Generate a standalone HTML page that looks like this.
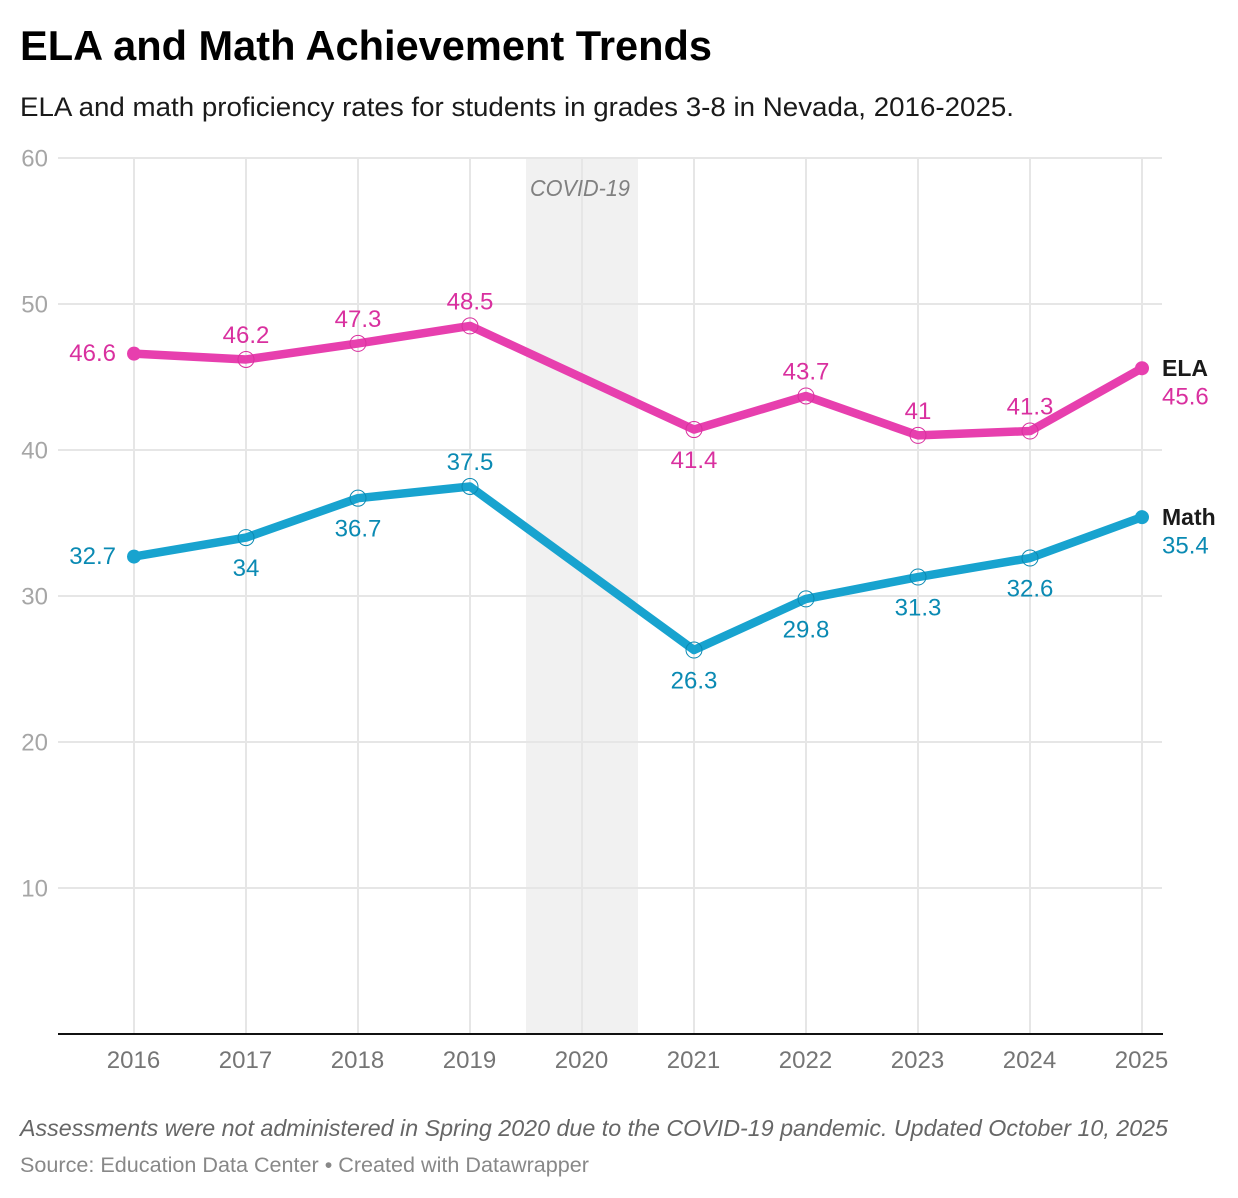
<!DOCTYPE html>
<html lang="en">
<head>
<meta charset="utf-8">
<title>ELA and Math Achievement Trends</title>
<style>
html,body{margin:0;padding:0;background:#fff;width:1238px;height:1198px;overflow:hidden}
svg{display:block}
text{font-family:"Liberation Sans",sans-serif}
</style>
</head>
<body>
<svg id="chart" xmlns="http://www.w3.org/2000/svg" width="1238" height="1198" viewBox="0 0 1238 1198">
  <text x="20" y="60" font-size="42" font-weight="700" fill="#000" textLength="692" lengthAdjust="spacingAndGlyphs">ELA and Math Achievement Trends</text>
  <text x="20" y="116" font-size="26.5" fill="#1a1a1a" textLength="994" lengthAdjust="spacingAndGlyphs">ELA and math proficiency rates for students in grades 3-8 in Nevada, 2016-2025.</text>
  <g id="plot"></g>
  <text x="20" y="1136" font-size="23.5" font-style="italic" fill="#666" textLength="1148" lengthAdjust="spacingAndGlyphs">Assessments were not administered in Spring 2020 due to the COVID-19 pandemic. Updated October 10, 2025</text>
  <text x="20" y="1172" font-size="21.5" fill="#888" textLength="569" lengthAdjust="spacingAndGlyphs">Source: Education Data Center • Created with Datawrapper</text>
</svg>
<script>
const years = [2016, 2017, 2018, 2019, 2020, 2021, 2022, 2023, 2024, 2025];
const yTicks = [10, 20, 30, 40, 50, 60];
const elaValues = [46.6, 46.2, 47.3, 48.5, null, 41.4, 43.7, 41, 41.3, 45.6];
const mathValues = [32.7, 34, 36.7, 37.5, null, 26.3, 29.8, 31.3, 32.6, 35.4];
const elaLabelSides = ['left', 'above', 'above', 'above', null, 'below', 'above', 'above', 'above', 'end'];
const mathLabelSides = ['left', 'below', 'below', 'above', null, 'below', 'below', 'below', 'below', 'end'];

const NS = 'http://www.w3.org/2000/svg';
const plot = document.getElementById('plot');
const xScale = yr => 134 + (yr - 2016) * 112;
const yScale = v => 1034 - v * 14.6;

function make(tag, attrs, parent, txt) {
  const el = document.createElementNS(NS, tag);
  for (const k in attrs) el.setAttribute(k, attrs[k]);
  if (txt !== undefined) el.textContent = txt;
  (parent || plot).appendChild(el);
  return el;
}

// COVID band
const band = make('rect', {x: xScale(2019.5), y: yScale(60), width: xScale(2020.5) - xScale(2019.5), height: yScale(0) - yScale(60), fill: '#f1f1f1'});



// vertical grid
years.forEach(yr => {
  const l = make('line', {x1: xScale(yr), x2: xScale(yr), y1: yScale(60), y2: yScale(0), stroke: '#e6e6e6', 'stroke-width': 2});
  
  
});

// horizontal grid and y tick labels
yTicks.forEach(t => {
  const l = make('line', {x1: 58, x2: 1162, y1: yScale(t), y2: yScale(t), stroke: '#e6e6e6', 'stroke-width': 2});
  
  
  const lb = make('text', {x: 48, y: yScale(t) + 8.5, 'text-anchor': 'end', 'font-size': 24, fill: '#a6a6a6'}, plot, String(t));
  
  
});

// baseline
const axis = make('line', {x1: 58, x2: 1163, y1: yScale(0), y2: yScale(0), stroke: '#111', 'stroke-width': 2});



// x tick labels
years.forEach(yr => {
  const lb = make('text', {x: xScale(yr) - 0.5, y: 1068, 'text-anchor': 'middle', 'font-size': 24, fill: '#757575'}, plot, String(yr));
  
  
});

// COVID label
const covid = make('text', {x: xScale(2020) - 2, y: 196, 'text-anchor': 'middle', 'font-size': 23, 'font-style': 'italic', fill: '#808080', textLength: 100, lengthAdjust: 'spacingAndGlyphs'}, plot, 'COVID-19');



function drawSeries(name, values, sides, lineColor, textColor) {
  const pts = [];
  values.forEach((v, i) => { if (v !== null) pts.push([xScale(years[i]), yScale(v), v, sides[i]]); });
  const line = make('polyline', {points: pts.map(p => p[0] + ',' + p[1]).join(' '), fill: 'none', stroke: lineColor, 'stroke-width': 8.5, 'stroke-linejoin': 'round', 'stroke-linecap': 'round'});
  
  

  pts.forEach((p, i) => {
    const isEdge = i === 0 || i === pts.length - 1;
    const dot = make('circle', isEdge
      ? {cx: p[0], cy: p[1], r: 7, fill: lineColor}
      : {cx: p[0], cy: p[1], r: 8, fill: 'none', stroke: textColor, 'stroke-width': 1});
    
    

    let x = p[0], y, anchor = 'middle';
    if (p[3] === 'above') y = p[1] - 16.5;
    else if (p[3] === 'below') y = p[1] + 38.5;
    else if (p[3] === 'left') { x = p[0] - 18; y = p[1] + 7.5; anchor = 'end'; }
    else { x = p[0] + 20; y = p[1] + 36.5; anchor = 'start'; }
    const lb = make('text', {x: x, y: y, 'text-anchor': anchor, 'font-size': 24, fill: textColor}, plot, String(p[2]));
    
    
  });

  const last = pts[pts.length - 1];
  const title = make('text', {x: last[0] + 20, y: last[1] + 8, 'font-size': 23, 'font-weight': 700, fill: '#1a1a1a'}, plot, name === 'ela' ? 'ELA' : 'Math');
  
  
}

drawSeries('ela', elaValues, elaLabelSides, '#e73fae', '#d9309f');
drawSeries('math', mathValues, mathLabelSides, '#18a3cf', '#0a8ab3');
</script>
</body>
</html>
